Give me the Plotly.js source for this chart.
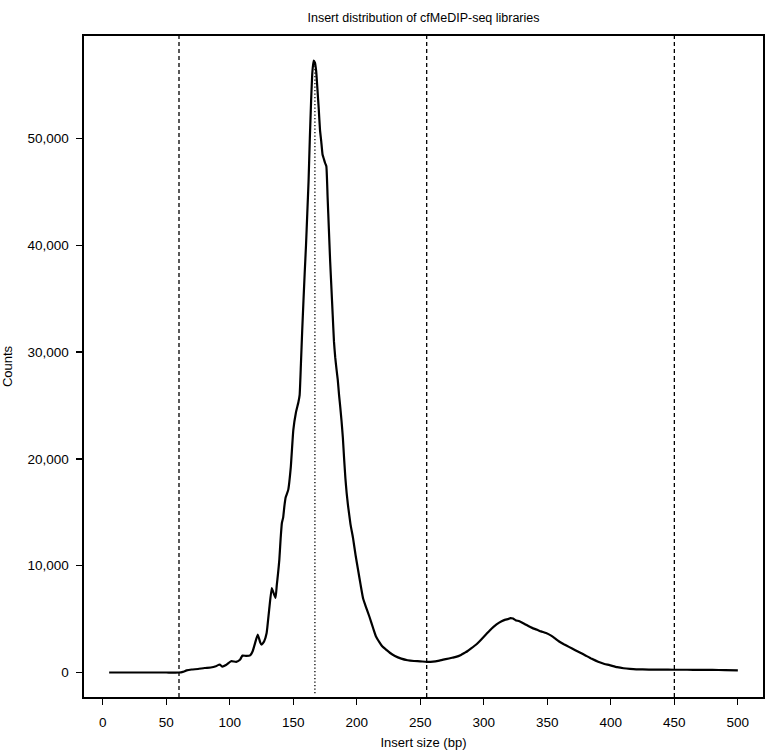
<!DOCTYPE html>
<html>
<head>
<meta charset="utf-8">
<script src="https://cdn.plot.ly/plotly-3.0.1.min.js"></script>
<style>
  body { margin: 0; background: #fff; }
  #myDiv { width: 773px; height: 755px; }
</style>
</head>
<body>
<div id="myDiv"></div>
<script>
// insert size (bp) and read counts
let insertSize = [
  5, 10, 20, 30, 40, 50, 60, 63, 66, 70, 75, 80, 85, 89, 92, 94, 97, 101, 105, 108,
  110, 113, 116, 118, 120, 122, 124, 125, 127, 129, 131, 133, 134, 136, 137, 138, 139, 140, 141, 142,
  143, 144, 146, 148, 150, 152, 154, 155, 156, 157, 158, 159, 160, 161, 162, 163, 164, 165, 166, 167,
  168, 169, 170, 171, 172, 173, 174, 175, 176, 177, 178, 179, 180, 181, 182, 183, 184, 185, 186, 187,
  188, 189, 190, 191, 192, 193, 195, 197, 199, 201, 203, 205, 207, 210, 213, 215, 218, 220, 223, 226,
  230, 235, 240, 245, 250, 255, 260, 265, 270, 275, 278, 282, 285, 287, 290, 294, 298, 302, 306, 310,
  314, 317, 319, 321, 323, 325, 328, 332, 335, 338, 342, 345, 349, 353, 356, 359, 363, 367, 372, 376,
  380, 385, 390, 395, 399, 405, 410, 415, 420, 430, 440, 450, 460, 470, 480, 490, 500
]
let counts = [
  0, 0, 0, 0, 0, 0, 0, 60, 200, 280, 330, 420, 470, 590, 750, 560, 700, 1060, 1000, 1200,
  1590, 1550, 1600, 1990, 2800, 3550, 2800, 2600, 2900, 3700, 5900, 7900, 7600, 6980, 8200, 9300, 10560, 12500, 14000, 14500,
  15600, 16400, 17100, 19200, 22700, 24300, 25300, 26000, 28900, 32000, 34800, 37500, 40000, 43000, 46000, 50000, 53500, 56200, 57300, 57100,
  56300, 54600, 52800, 50800, 49700, 48500, 48100, 47700, 47400, 44500, 41500, 38500, 36000, 33500, 31000, 29500, 28400, 27400, 26000, 24800,
  23500, 22000, 20000, 18200, 16800, 15700, 13900, 12600, 11000, 9600, 8200, 6900, 6200, 5200, 4100, 3400, 2800, 2450, 2150, 1850,
  1550, 1300, 1150, 1080, 1050, 1000, 1020, 1120, 1250, 1380, 1460, 1650, 1850, 1990, 2250, 2620, 3100, 3600, 4100, 4500,
  4800, 4950, 5000, 5100, 5050, 4900, 4800, 4550, 4350, 4180, 4000, 3850, 3700, 3450, 3200, 2930, 2650, 2400, 2090, 1850,
  1600, 1280, 1000, 800, 690, 500, 400, 340, 300, 280, 270, 260, 260, 250, 240, 230, 210
]

// size cut-offs (dashed) and the modal insert size (dotted)
let cutoffs  = [60, 255, 450]
let modeSize = 167

let xTicks = [0, 50, 100, 150, 200, 250, 300, 350, 400, 450, 500]
let yTicks = [0, 10000, 20000, 30000, 40000, 50000]
let yTickText = ['0', '10,000', '20,000', '30,000', '40,000', '50,000']

// R style axis range: data extent plus 4% each side
function padRange(v) {
    let lo = Math.min(...v), hi = Math.max(...v)
    let pad = (hi - lo) * 0.04
    return [lo - pad, hi + pad]
}

let peak = Math.max(...counts)

let shapes = cutoffs.map(c => ({
    type: 'line', xref: 'x', yref: 'paper',
    x0: c, x1: c, y0: 0, y1: 1,
    line: { color: 'black', width: 1.3, dash: '4px,3px' }
}))
shapes.push({
    type: 'line', xref: 'x', yref: 'y',
    x0: modeSize, x1: modeSize, y0: padRange(counts)[0] * 0.85, y1: peak,
    line: { color: 'black', width: 1.3, dash: '1.3px,2.2px' }
})

let curve = {
    x: insertSize,
    y: counts,
    type: 'scatter',
    mode: 'lines',
    line: { color: 'black', width: 2.2, shape: 'spline', smoothing: 0.4 },
    hoverinfo: 'x+y'
}

let axisFont = { family: 'Liberation Sans, Arial, sans-serif', size: 13.5, color: 'black' }

let layout = {
    width: 773,
    height: 755,
    margin: { l: 84, r: 10, t: 36, b: 58 },
    paper_bgcolor: 'white',
    plot_bgcolor: 'white',
    showlegend: false,
    font: axisFont,
    title: {
        text: 'Insert distribution of cfMeDIP-seq libraries',
        font: { family: 'Liberation Sans, Arial, sans-serif', size: 12.5, color: 'black' },
        x: 0.5, xanchor: 'center', xref: 'paper',
        y: 0.976, yanchor: 'middle'
    },
    xaxis: {
        range: padRange(insertSize),
        tickvals: xTicks,
        ticks: 'outside', ticklen: 6, tickwidth: 1.3, tickcolor: 'black',
        ticklabelstandoff: 6,
        showline: true, linecolor: 'black', linewidth: 1.6, mirror: true,
        showgrid: false, zeroline: false,
        tickfont: axisFont,
        title: { text: 'Insert size (bp)', font: { size: 13 }, standoff: 9 }
    },
    yaxis: {
        range: padRange(counts),
        tickvals: yTicks,
        ticktext: yTickText,
        ticks: 'outside', ticklen: 6, tickwidth: 1.3, tickcolor: 'black',
        ticklabelstandoff: 5,
        showline: true, linecolor: 'black', linewidth: 1.6, mirror: true,
        showgrid: false, zeroline: false,
        tickfont: axisFont,
        title: { text: 'Counts', font: { size: 13 }, standoff: 12 }
    },
    shapes: shapes
}

Plotly.newPlot('myDiv', [curve], layout, { displayModeBar: false, staticPlot: true })
</script>
</body>
</html>
